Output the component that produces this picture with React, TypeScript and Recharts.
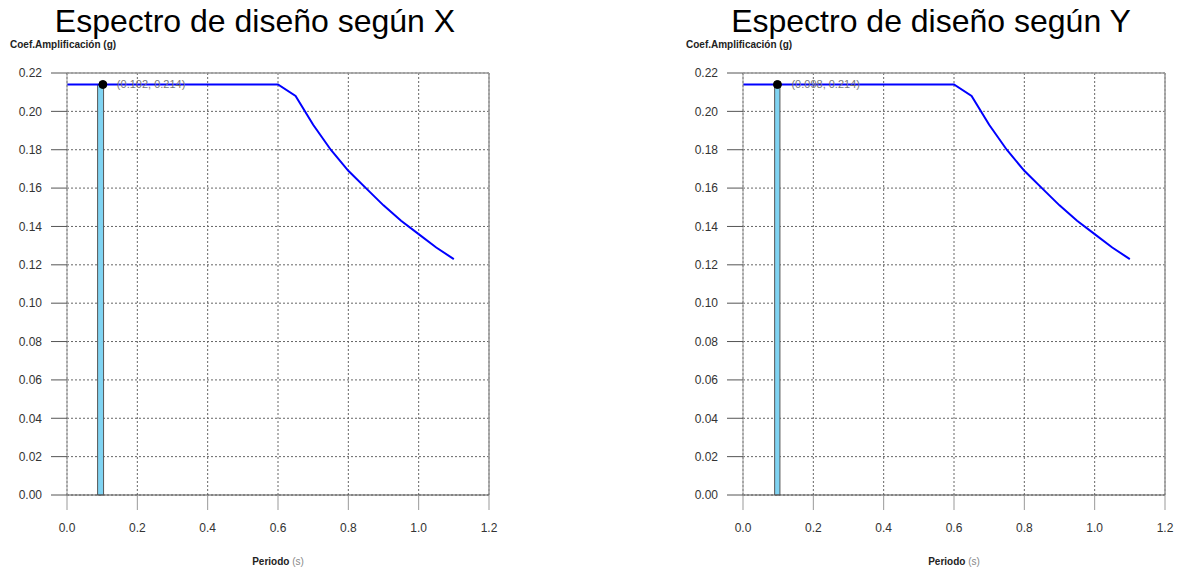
import React from 'react';
import {
  ComposedChart,
  Line,
  XAxis,
  YAxis,
  CartesianGrid,
  ReferenceArea,
  ReferenceDot,
  ReferenceLine,
} from 'recharts';

// periodo (s)
const periods = [0, 0.6, 0.65, 0.7, 0.75, 0.8, 0.85, 0.9, 0.95, 1.0, 1.05, 1.1];
// coef. amplificacion (g)
const spectrumX = [0.214, 0.214, 0.208, 0.193, 0.18, 0.169, 0.16, 0.151, 0.143, 0.136, 0.129, 0.123];
const spectrumY = [0.214, 0.214, 0.208, 0.193, 0.18, 0.169, 0.16, 0.151, 0.143, 0.136, 0.129, 0.123];

const xTicks = [0, 0.2, 0.4, 0.6, 0.8, 1.0, 1.2];
const yTicks = [0, 0.02, 0.04, 0.06, 0.08, 0.1, 0.12, 0.14, 0.16, 0.18, 0.2, 0.22];

// periodo fundamental de la estructura
const periodX = 0.102;
const periodY = 0.098;
const saX = 0.214;
const saY = 0.214;
const barX = [0.087, 0.104];
const barY = [0.09, 0.105];

const FONT = '"Liberation Sans", Arial, Helvetica, sans-serif';

type SpectrumProps = {
  title: string;
  values: number[];
  period: number;
  sa: number;
  bar: number[];
  left: number;
};

const Spectrum = ({ title, values, period, sa, bar, left }: SpectrumProps) => {
  const data = periods.map((t, i) => ({ t, sa: values[i] }));
  return (
    <div style={{ position: 'absolute', left, top: 0, width: 510, height: 571 }}>
      <div
        style={{
          position: 'absolute',
          left: 0,
          width: 510,
          top: 3,
          textAlign: 'center',
          fontSize: 32,
          fontFamily: FONT,
          color: '#000',
          whiteSpace: 'nowrap',
        }}
      >
        {title}
      </div>
      <div
        style={{
          position: 'absolute',
          left: 10,
          top: 39,
          fontSize: 10,
          fontWeight: 'bold',
          fontFamily: FONT,
          color: '#222',
        }}
      >
        Coef.Amplificación (g)
      </div>
      <ComposedChart
        width={510}
        height={571}
        data={data}
        margin={{ top: 73, right: 21, bottom: 0, left: 10 }}
      >
        <CartesianGrid stroke="#666" strokeDasharray="2 2" />
        <XAxis
          dataKey="t"
          type="number"
          domain={[0, 1.2]}
          ticks={xTicks}
          tickFormatter={(v: number) => v.toFixed(1)}
          height={76}
          tickSize={15}
          tickMargin={13}
          axisLine={{ stroke: '#555' }}
          tickLine={{ stroke: '#999' }}
          tick={{ fontSize: 12, fill: '#333', fontFamily: FONT }}
        />
        <YAxis
          type="number"
          domain={[0, 0.22]}
          ticks={yTicks}
          tickFormatter={(v: number) => v.toFixed(2)}
          width={57}
          tickSize={16}
          tickMargin={9}
          axisLine={{ stroke: '#999' }}
          tickLine={{ stroke: '#555' }}
          tick={{ fontSize: 12, fill: '#333', fontFamily: FONT }}
        />
        <ReferenceLine y={0.22} stroke="#999" strokeWidth={1.5} />
        <ReferenceLine x={1.2} stroke="#999" strokeWidth={1.5} />
        <ReferenceArea
          x1={bar[0]}
          x2={bar[1]}
          y1={0}
          y2={sa}
          fill="#7fd3f2"
          fillOpacity={1}
          stroke="#555"
          strokeWidth={1}
        />
        <Line
          dataKey="sa"
          type="linear"
          stroke="#0000ff"
          strokeWidth={2}
          dot={false}
          isAnimationActive={false}
        />
        <ReferenceDot
          x={period}
          y={sa}
          r={4}
          fill="#000"
          stroke="#000"
          label={{
            value: `(${period.toFixed(3)}, ${sa.toFixed(3)})`,
            position: 'right',
            offset: 10,
            fontSize: 11,
            fill: '#777',
            fontFamily: FONT,
          }}
        />
      </ComposedChart>
      <div
        style={{
          position: 'absolute',
          left: 67,
          width: 422,
          top: 556,
          textAlign: 'center',
          fontSize: 10,
          fontFamily: FONT,
        }}
      >
        <span style={{ fontWeight: 'bold', color: '#222' }}>Periodo</span>{' '}
        <span style={{ color: '#888' }}>(s)</span>
      </div>
    </div>
  );
};

const App = () => {
  return (
    <div style={{ position: 'absolute', left: 0, top: 0, width: 1186, height: 571, background: '#fff' }}>
      <Spectrum title="Espectro de diseño según X" values={spectrumX} period={periodX} sa={saX} bar={barX} left={0} />
      <Spectrum title="Espectro de diseño según Y" values={spectrumY} period={periodY} sa={saY} bar={barY} left={676} />
    </div>
  );
};

export default App;
